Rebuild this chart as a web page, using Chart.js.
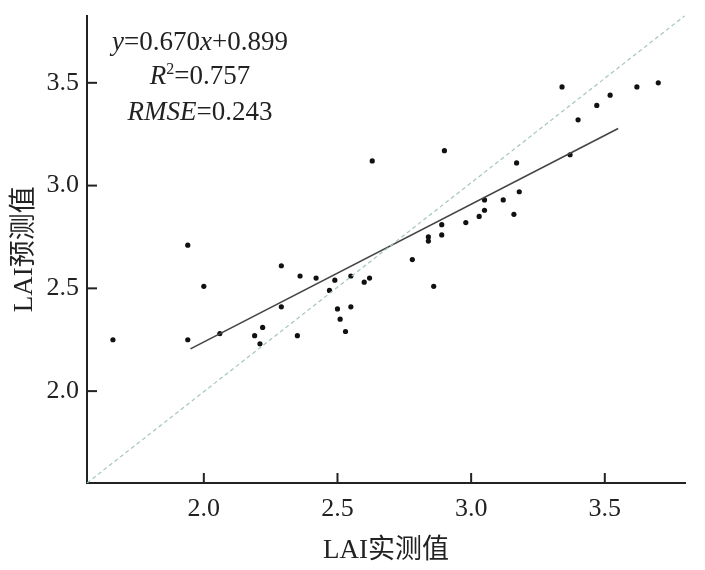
<!DOCTYPE html>
<html>
<head>
<meta charset="utf-8">
<script src="https://cdn.jsdelivr.net/npm/chart.js@4"></script>
<style>
  html, body { margin: 0; padding: 0; background: #fff; }
  #wrap { width: 705px; height: 570px; }
</style>
</head>
<body>
<div id="wrap"><canvas id="LaiScatter"></canvas></div>
<script>
const measured = [1.66, 1.94, 1.94, 2.00, 2.06, 2.19, 2.21, 2.22, 2.29, 2.29, 2.35, 2.36, 2.42,
  2.47, 2.49, 2.50, 2.51, 2.53, 2.55, 2.55, 2.60, 2.62, 2.63, 2.78, 2.84, 2.84, 2.86, 2.89, 2.89,
  2.90, 2.98, 3.03, 3.05, 3.05, 3.12, 3.16, 3.17, 3.18, 3.34, 3.37, 3.40, 3.47, 3.52, 3.62, 3.70];
const predicted = [2.25, 2.71, 2.25, 2.51, 2.28, 2.27, 2.23, 2.31, 2.61, 2.41, 2.27, 2.56, 2.55,
  2.49, 2.54, 2.40, 2.35, 2.29, 2.56, 2.41, 2.53, 2.55, 3.12, 2.64, 2.75, 2.73, 2.51, 2.81, 2.76,
  3.17, 2.82, 2.85, 2.88, 2.93, 2.93, 2.86, 3.11, 2.97, 3.48, 3.15, 3.32, 3.39, 3.44, 3.48, 3.50];
const xTicks = [2.0, 2.5, 3.0, 3.5];
const yTicks = [2.0, 2.5, 3.0, 3.5];
const slope = 0.670, intercept = 0.899;
const fitRange = [1.95, 3.55];
const xRange = [1.563, 3.80];
const yRange = [1.553, 3.827];

const serif = '"Liberation Serif", "Times New Roman", serif';
const cjk = '"Liberation Serif", "Noto Sans CJK SC", serif';

const points = measured.map((x, i) => ({ x: x, y: predicted[i] }));
const fitLine = fitRange.map(x => ({ x: x, y: slope * x + intercept }));
// the 1:1 guide runs corner to corner of the plot
const oneToOne = [{ x: xRange[0], y: yRange[0] }, { x: xRange[1], y: yRange[1] }];

// ticks in the figure point into the plot, so draw them here
const innerTicks = {
  id: 'innerTicks',
  afterDatasetsDraw(chart) {
    const { ctx, chartArea, scales } = chart;
    ctx.save();
    ctx.strokeStyle = '#222';
    ctx.lineWidth = 2;
    xTicks.forEach(v => {
      const px = scales.x.getPixelForValue(v);
      ctx.beginPath();
      ctx.moveTo(px, chartArea.bottom);
      ctx.lineTo(px, chartArea.bottom - 10);
      ctx.stroke();
    });
    yTicks.forEach(v => {
      const py = scales.y.getPixelForValue(v);
      ctx.beginPath();
      ctx.moveTo(chartArea.left, py);
      ctx.lineTo(chartArea.left + 10, py);
      ctx.stroke();
    });
    ctx.restore();
  }
};

// equation / stats block, centred like the original
function drawRuns(ctx, runs, cx, y) {
  let total = 0;
  runs.forEach(r => { ctx.font = r.font; total += ctx.measureText(r.t).width; });
  let x = cx - total / 2;
  runs.forEach(r => {
    ctx.font = r.font;
    ctx.fillText(r.t, x, y + (r.dy || 0));
    x += ctx.measureText(r.t).width;
  });
}

const statsText = {
  id: 'statsText',
  afterDraw(chart) {
    const ctx = chart.ctx;
    const n = '27px ' + serif, it = 'italic 27px ' + serif, sup = '16px ' + serif;
    ctx.save();
    ctx.fillStyle = '#222';
    ctx.textBaseline = 'alphabetic';
    drawRuns(ctx, [{ t: 'y', font: it }, { t: '=0.670', font: n }, { t: 'x', font: it }, { t: '+0.899', font: n }], 200, 50);
    drawRuns(ctx, [{ t: 'R', font: it }, { t: '2', font: sup, dy: -10 }, { t: '=0.757', font: n }], 200, 84);
    drawRuns(ctx, [{ t: 'RMSE', font: it }, { t: '=0.243', font: n }], 200, 120);
    ctx.restore();
  }
};

new Chart(document.getElementById('LaiScatter'), {
  type: 'scatter',
  data: {
    datasets: [
      {
        label: '1:1',
        data: oneToOne,
        showLine: true,
        borderColor: '#a3c6bd',
        borderWidth: 1.2,
        borderDash: [4, 3],
        pointRadius: 0
      },
      {
        label: 'fit',
        data: fitLine,
        showLine: true,
        borderColor: '#444',
        borderWidth: 1.6,
        pointRadius: 0
      },
      {
        label: 'LAI',
        data: points,
        backgroundColor: '#111',
        borderColor: '#111',
        pointRadius: 2.6,
        pointBorderWidth: 0
      }
    ]
  },
  options: {
    responsive: true,
    maintainAspectRatio: false,
    animation: false,
    layout: { padding: { left: 0, right: 20, top: 10, bottom: 0 } },
    plugins: { legend: { display: false }, tooltip: { enabled: false } },
    scales: {
      x: {
        type: 'linear',
        min: xRange[0],
        max: xRange[1],
        afterBuildTicks: s => { s.ticks = xTicks.map(v => ({ value: v })); },
        afterFit: s => { s.height = 87; },
        grid: { display: false },
        border: { display: true, color: '#222', width: 2 },
        ticks: { padding: 3, color: '#222', font: { family: serif, size: 26 }, callback: v => v.toFixed(1) },
        title: { display: true, text: 'LAI实测值', color: '#222', font: { family: cjk, size: 27 }, padding: { top: 0, bottom: 3 } }
      },
      y: {
        type: 'linear',
        min: yRange[0],
        max: yRange[1],
        afterBuildTicks: s => { s.ticks = yTicks.map(v => ({ value: v })); },
        afterFit: s => { s.width = 87; },
        grid: { display: false },
        border: { display: true, color: '#222', width: 2 },
        ticks: { padding: 0, color: '#222', font: { family: serif, size: 26 }, callback: v => v.toFixed(1) },
        title: { display: true, text: 'LAI预测值', color: '#222', font: { family: cjk, size: 27 }, padding: { top: 9, bottom: 0 } }
      }
    }
  },
  plugins: [innerTicks, statsText]
});
</script>
</body>
</html>
